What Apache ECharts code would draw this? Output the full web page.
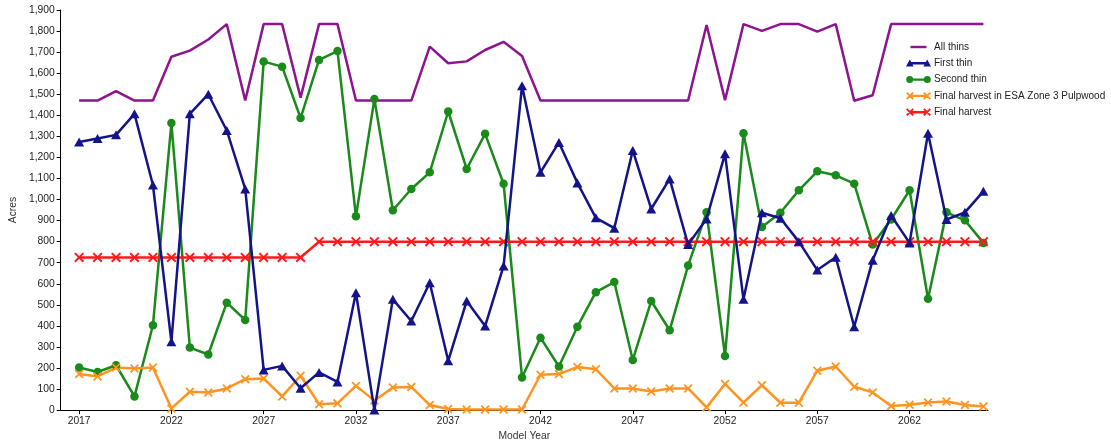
<!DOCTYPE html>
<html>
<head>
<meta charset="utf-8">
<script src="https://cdn.jsdelivr.net/npm/echarts@6/dist/echarts.min.js"></script>
<style>
html,body{margin:0;padding:0;background:#fff;}
#chart{width:1111px;height:446px;}
</style>
</head>
<body>
<div id="chart"></div>
<script>
// ---- data ----
const years = [2017,2018,2019,2020,2021,2022,2023,2024,2025,2026,
               2027,2028,2029,2030,2031,2032,2033,2034,2035,2036,
               2037,2038,2039,2040,2041,2042,2043,2044,2045,2046,
               2047,2048,2049,2050,2051,2052,2053,2054,2055,2056,
               2057,2058,2059,2060,2061,2062,2063,2064,2065,2066];
const xTickYears = [2017,2022,2027,2032,2037,2042,2047,2052,2057,2062];
const allThins = [1470,1470,1515,1470,1470,1678,1707,1760,1833,1470,
                  1833,1833,1484,1833,1833,1470,1470,1470,1470,1726,
                  1647,1656,1710,1749,1682,1470,1470,1470,1470,1470,
                  1470,1470,1470,1470,1829,1472,1833,1801,1833,1833,
                  1797,1833,1469,1495,1833,1833,1833,1833,1833,1833];
const firstThin = [1273,1290,1307,1407,1069,324,1407,1500,1328,1050,
                   191,210,104,179,134,557,0,526,423,605,
                   234,518,399,684,1540,1129,1271,1079,913,864,
                   1233,955,1098,786,908,1217,526,937,911,800,
                   665,726,396,712,924,794,1315,905,939,1039];
const secondThin = [202,181,213,65,403,1363,297,264,510,428,
                    1655,1631,1387,1663,1705,920,1477,949,1050,1129,
                    1418,1145,1312,1075,155,344,207,396,560,608,
                    238,518,379,687,939,257,1315,870,937,1044,
                    1134,1115,1075,786,905,1044,529,939,901,794];
const esaPulp = [171,160,202,198,202,8,87,84,103,147,
                 150,65,163,28,32,115,45,107,110,24,
                 5,3,3,3,3,168,171,205,194,103,
                 103,88,103,103,13,124,36,118,35,35,
                 187,207,111,84,20,25,36,41,24,17];
const finalHarvest = [725,725,725,725,725,725,725,725,725,725,
                      725,725,725,800,800,800,800,800,800,800,
                      800,800,800,800,800,800,800,800,800,800,
                      800,800,800,800,800,800,800,800,800,800,
                      800,800,800,800,800,800,800,800,800,800];
const seriesNames = ['All thins','First thin','Second thin','Final harvest in ESA Zone 3 Pulpwood','Final harvest'];

// ---- styling helpers ----
const FONT = 'Liberation Sans';
const C_PURPLE = '#8e138e', C_NAVY = '#14148a', C_GREEN = '#1a8a1a', C_ORANGE = '#ff9420', C_RED = '#ff1a1a';

function f(n){return (+n.toFixed(3)).toString();}
function crossPath(cx, cy, h, w){
  const a = w/(2*Math.SQRT2);
  const r1 = [[cx-h+a,cy-h-a],[cx+h+a,cy+h-a],[cx+h-a,cy+h+a],[cx-h-a,cy-h+a]];
  const r2 = [[cx-h-a,cy+h-a],[cx+h-a,cy-h-a],[cx+h+a,cy-h+a],[cx-h+a,cy+h+a]];
  const p = r => 'M'+r.map(q=>f(q[0])+','+f(q[1])).join('L')+'Z';
  return p(r1)+p(r2);
}
function circlePath(cx, cy, r){
  return 'M'+f(cx+r)+','+f(cy)+'A'+r+','+r+' 0 1 1 '+f(cx-r)+','+f(cy)+'A'+r+','+r+' 0 1 1 '+f(cx+r)+','+f(cy)+'Z';
}
function triPath(cx, cy, w, h){
  return 'M'+f(cx-w/2)+','+f(cy+h/2)+'L'+f(cx)+','+f(cy-h/2)+'L'+f(cx+w/2)+','+f(cy+h/2)+'Z';
}
const lineRect = (x0,x1) => 'M'+x0+',3.8L'+x1+',3.8L'+x1+',6.2L'+x0+',6.2Z';
const box = 'M0,0M25,10';
const legendIcons = [
  'path://'+box+lineRect(4.5,20.5),
  'path://'+box+lineRect(3,22)+triPath(3.8,4.6,7.6,7)+triPath(21.2,4.6,7.6,7),
  'path://'+box+lineRect(3,22)+circlePath(3.7,5,3.5)+circlePath(21.3,5,3.5),
  'path://'+box+lineRect(3,22)+crossPath(3.8,5,3.3,1.9)+crossPath(21.2,5,3.3,1.9),
  'path://'+box+lineRect(3,22)+crossPath(3.8,5,3.3,1.9)+crossPath(21.2,5,3.3,1.9)
];
const xSymbol = 'path://M0,0M10,10'+crossPath(5,5,4.3,2);

const pair = arr => years.map((y,i)=>[y,arr[i]]);
const withCommas = v => String(v).replace(/\B(?=(\d{3})+(?!\d))/g, ',');

const chart = echarts.init(document.getElementById('chart'), null, {renderer:'canvas'});
chart.setOption({
  backgroundColor:'#ffffff',
  animation:false,
  textStyle:{fontFamily:FONT},
  grid:{left:60, right:123, top:10, bottom:35},
  legend:{
    orient:'vertical', left:906, top:41, padding:0,
    itemWidth:25, itemHeight:10, itemGap:4.3,
    textStyle:{fontFamily:FONT, fontSize:10, color:'#222', lineHeight:12, padding:[0,0,0,-2]},
    data: seriesNames.map((n,i)=>({name:n, icon:legendIcons[i]}))
  },
  xAxis:{
    type:'value', min:2016, max:2066.25,
    name:'Model Year', nameLocation:'middle', nameGap:20,
    nameTextStyle:{fontFamily:FONT, fontSize:10.3, color:'#333'},
    axisLine:{show:true, onZero:false, lineStyle:{color:'#000', width:1}},
    axisTick:{show:true, length:4, lineStyle:{color:'#000'}, customValues:xTickYears},
    axisLabel:{customValues:xTickYears, formatter:v=>String(v), fontFamily:FONT, fontSize:10.3, color:'#222', margin:6},
    splitLine:{show:false}
  },
  yAxis:{
    type:'value', min:0, max:1900, interval:100,
    name:'Acres', nameLocation:'middle', nameGap:37,
    nameTextStyle:{fontFamily:FONT, fontSize:10.3, color:'#333'},
    axisLine:{show:true, lineStyle:{color:'#000', width:1}},
    axisTick:{show:true, length:4, lineStyle:{color:'#000'}},
    axisLabel:{formatter:v=>withCommas(v), fontFamily:FONT, fontSize:10.3, color:'#222', margin:6},
    splitLine:{show:false}
  },
  series:[
    {name:seriesNames[0], type:'line', data:pair(allThins), showSymbol:false, symbol:'none',
     lineStyle:{color:C_PURPLE, width:2.5}, itemStyle:{color:C_PURPLE}, z:2},
    {name:seriesNames[1], type:'line', data:pair(firstThin), symbol:'triangle', symbolSize:[10,9],
     lineStyle:{color:C_NAVY, width:2.5}, itemStyle:{color:C_NAVY}, z:4},
    {name:seriesNames[2], type:'line', data:pair(secondThin), symbol:'circle', symbolSize:8.5,
     lineStyle:{color:C_GREEN, width:2.5}, itemStyle:{color:C_GREEN}, z:3},
    {name:seriesNames[3], type:'line', data:pair(esaPulp), symbol:xSymbol, symbolSize:9,
     lineStyle:{color:C_ORANGE, width:2.5}, itemStyle:{color:C_ORANGE}, z:3},
    {name:seriesNames[4], type:'line', data:pair(finalHarvest), symbol:xSymbol, symbolSize:10,
     lineStyle:{color:C_RED, width:2.5}, itemStyle:{color:C_RED}, z:3}
  ]
});
</script>
</body>
</html>
